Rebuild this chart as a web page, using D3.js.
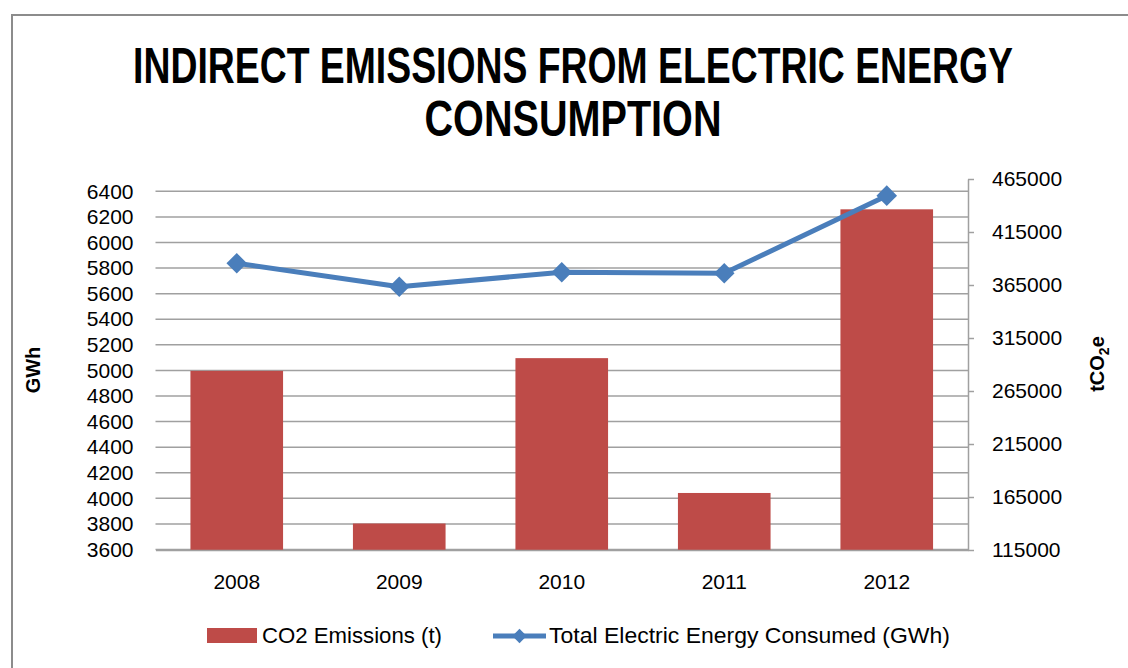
<!DOCTYPE html>
<html>
<head>
<meta charset="utf-8">
<script src="https://cdn.jsdelivr.net/npm/d3@7"></script>
<style>
  html, body { margin: 0; padding: 0; background: #fff; }
  svg { display: block; }
  text { font-family: "Liberation Sans", Arial, sans-serif; fill: #000; }
</style>
</head>
<body>
<svg id="chart" width="1128" height="668"></svg>
<script>
const years = ["2008", "2009", "2010", "2011", "2012"];
const co2Emissions = [284000, 140000, 296000, 168800, 436400];
const energyConsumed = [5837, 5654, 5767, 5759, 6366];
const leftTicks = [3600, 3800, 4000, 4200, 4400, 4600, 4800, 5000, 5200, 5400, 5600, 5800, 6000, 6200, 6400];
const rightTicks = [115000, 165000, 215000, 265000, 315000, 365000, 415000, 465000];
const titleLines = ["INDIRECT EMISSIONS FROM ELECTRIC ENERGY", "CONSUMPTION"];
const seriesNames = ["CO2 Emissions (t)", "Total Electric Energy Consumed (GWh)"];

const svg = d3.select("#chart");
const barColor = "#be4b48";
const lineColor = "#4a7ebb";
const gridColor = "#a0a0a0";

// outer border
svg.append("path").attr("d", "M12,700 L12,15 L1140,15")
  .attr("fill", "none").attr("stroke", "#8c8c8c").attr("stroke-width", 2);

// helper: fit text horizontally to a target width by scaling
function fitText(sel, cxPos, target) {
  const w = sel.node().getComputedTextLength();
  const k = target / w;
  const y = +sel.attr("y");
  sel.attr("x", 0).attr("y", 0).attr("text-anchor", "middle")
    .attr("transform", `translate(${cxPos},${y}) scale(${k},1)`);
}

// title
const titleWidths = [880, 297];
titleLines.forEach((t, i) => {
  const el = svg.append("text")
    .attr("y", 83 + i * 53)
    .attr("font-size", 50).attr("font-weight", "bold")
    .text(t);
  fitText(el, 573, titleWidths[i]);
});

const x = d3.scaleBand().domain(years).range([155.5, 968]).paddingInner(0.43).paddingOuter(0.215);
const yL = d3.scaleLinear().domain([3600, 6400]).range([549.5, 191.3]);
const yR = d3.scaleLinear().domain([115000, 465000]).range([550, 179]);

// gridlines
svg.append("g").selectAll("line").data(leftTicks).join("line")
  .attr("x1", 155.5).attr("x2", 968)
  .attr("y1", d => yL(d)).attr("y2", d => yL(d))
  .attr("stroke", gridColor).attr("stroke-width", 1.5);

// left axis labels (no line)
const axL = svg.append("g").attr("transform", "translate(155.5,0)")
  .call(d3.axisLeft(yL).tickValues(leftTicks).tickSize(0).tickPadding(22).tickFormat(d3.format("d")));
axL.select(".domain").remove();
axL.selectAll("text").attr("font-size", 21).attr("font-family", "Liberation Sans, Arial, sans-serif").attr("fill", "#000");

// bars
svg.append("g").selectAll("rect").data(years).join("rect")
  .attr("x", d => x(d))
  .attr("width", x.bandwidth())
  .attr("y", (d, i) => yR(co2Emissions[i]))
  .attr("height", (d, i) => yR(115000) - yR(co2Emissions[i]))
  .attr("fill", barColor);

// bottom axis
const axB = svg.append("g").attr("transform", "translate(0,550)")
  .call(d3.axisBottom(x).tickSize(0).tickPadding(24));
axB.select(".domain").attr("stroke", gridColor).attr("stroke-width", 1.5);
axB.selectAll("text").attr("font-size", 21).attr("font-family", "Liberation Sans, Arial, sans-serif").attr("fill", "#000");

// right axis
const axR = svg.append("g").attr("transform", "translate(968,0)")
  .call(d3.axisRight(yR).tickValues(rightTicks).tickSize(6).tickSizeOuter(0).tickPadding(18).tickFormat(d3.format("d")));
axR.select(".domain").attr("stroke", gridColor).attr("stroke-width", 1.5);
axR.selectAll(".tick line").attr("stroke", gridColor).attr("stroke-width", 1.5);
axR.selectAll("text").attr("font-size", 21).attr("font-family", "Liberation Sans, Arial, sans-serif").attr("fill", "#000");

// line
const cx = d => x(d) + x.bandwidth() / 2;
const line = d3.line().x((d, i) => cx(years[i])).y(d => yL(d));
svg.append("path").datum(energyConsumed)
  .attr("d", line).attr("fill", "none")
  .attr("stroke", lineColor).attr("stroke-width", 5).attr("stroke-linejoin", "round");
const diamond = d3.symbol().type(d3.symbolDiamond2).size(270);
svg.append("g").selectAll("path").data(energyConsumed).join("path")
  .attr("d", diamond)
  .attr("transform", (d, i) => `translate(${cx(years[i])},${yL(d)})`)
  .attr("fill", lineColor);

// axis titles
svg.append("text")
  .attr("transform", "translate(40,370) rotate(-90)")
  .attr("text-anchor", "middle").attr("font-size", 20).attr("font-weight", "bold")
  .text("GWh");
const rt = svg.append("text")
  .attr("transform", "translate(1104,364) rotate(-90)")
  .attr("text-anchor", "middle").attr("font-size", 20).attr("font-weight", "bold");
rt.append("tspan").text("tCO");
rt.append("tspan").attr("font-size", 14).attr("dy", 5).text("2");
rt.append("tspan").attr("dy", -5).text("e");

// legend
const lg = svg.append("g");
lg.append("rect").attr("x", 207).attr("y", 628).attr("width", 50).attr("height", 15).attr("fill", barColor);
const l1 = lg.append("text").attr("y", 643).attr("font-size", 22).text(seriesNames[0]);
fitText(l1, 262 + 180 / 2, 180);
lg.append("line").attr("x1", 493).attr("x2", 546).attr("y1", 636).attr("y2", 636)
  .attr("stroke", lineColor).attr("stroke-width", 5);
lg.append("path").attr("d", d3.symbol().type(d3.symbolDiamond2).size(130))
  .attr("transform", "translate(519.5,636)").attr("fill", lineColor);
const l2 = lg.append("text").attr("y", 643).attr("font-size", 22).text(seriesNames[1]);
fitText(l2, 549 + 401 / 2, 401);
</script>
</body>
</html>
